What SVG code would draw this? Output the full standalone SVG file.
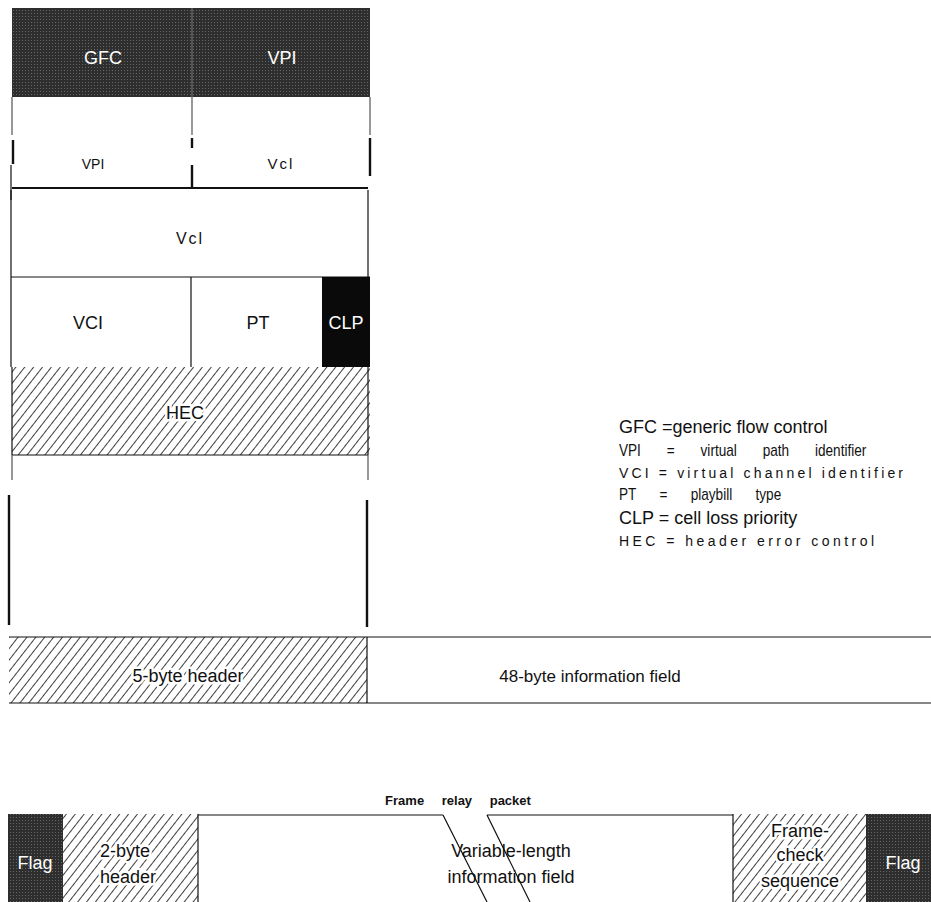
<svg xmlns="http://www.w3.org/2000/svg" width="931" height="902" viewBox="0 0 931 902">
<defs>
<pattern id="hatch" width="7" height="7" patternUnits="userSpaceOnUse" patternTransform="rotate(38)">
<rect width="7" height="7" fill="#fff"/>
<line x1="0" y1="0" x2="0" y2="7" stroke="#000" stroke-width="1.5"/>
</pattern>
<pattern id="stipple" width="3" height="3" patternUnits="userSpaceOnUse">
<rect width="3" height="3" fill="#2e2e2e"/>
<rect x="1" y="1" width="1" height="1" fill="#666"/>
</pattern>
</defs>
<style>
text{font-family:"Liberation Sans",Arial,sans-serif;fill:#111}
.w{fill:#fff}
.ln{stroke:#111;stroke-width:1.2;fill:none}
.tk{stroke:#111;stroke-width:2.4;fill:none}
.gl{stroke:#555;stroke-width:1.2;fill:none}
.halo{stroke:#fff;stroke-width:5;paint-order:stroke;stroke-linejoin:round}
.big{font-size:18px}
</style>
<rect width="931" height="902" fill="#fff"/>

<g id="atm-cell">
<g id="row-gfc-vpi">
<rect x="12" y="8" width="358" height="89" fill="url(#stipple)"/>
<line x1="192" y1="8" x2="192" y2="97" stroke="#777" stroke-width="1"/>
<text x="103" y="64" class="w big" text-anchor="middle">GFC</text>
<text x="282" y="64" class="w big" text-anchor="middle">VPI</text>
</g>
<g id="row-vpi-vci">
<path class="gl" d="M12 97V135M370 97V135M192 97V135"/>
<path class="tk" d="M13 140V164M370 138V176M192 138V148M192 165V188"/>
<path class="ln" d="M11 165V200"/>
<line x1="12" y1="188" x2="368" y2="188" stroke="#111" stroke-width="2"/>
<text x="93" y="169" font-size="14" text-anchor="middle">VPI</text>
<text x="281" y="169" font-size="15" text-anchor="middle" letter-spacing="2">Vcl</text>
</g>
<g id="row-vci">
<path class="ln" d="M11 190V277M368 190V277"/>
<text x="190" y="244" font-size="16" text-anchor="middle" letter-spacing="2">Vcl</text>
</g>
<g id="row-vci-pt-clp">
<path class="ln" d="M11 277H370M11 277V367M191 277V367M368 277V367"/>
<rect x="322" y="277" width="48" height="90" fill="#0a0a0a"/>
<text x="88" y="329" class="big" text-anchor="middle">VCI</text>
<text x="258" y="329" class="big" text-anchor="middle">PT</text>
<text x="346" y="329" class="w big" text-anchor="middle">CLP</text>
</g>
<g id="row-hec">
<rect x="12" y="367" width="358" height="88" fill="url(#hatch)"/>
<path class="ln" d="M12 367V455M368 367V455M12 455H368"/>
<text x="185" y="419" class="big halo" text-anchor="middle">HEC</text>
</g>
<g id="payload-sides">
<path class="gl" d="M12 455V480M368 455V480"/>
<path class="tk" d="M9 495V625M367 500V627"/>
</g>
</g>

<g id="atm-summary">
<rect x="9" y="637" width="358" height="66" fill="url(#hatch)"/>
<path class="ln" d="M9 637H931M9 703H931M367 637V703"/>
<text x="188" y="682" class="big halo" text-anchor="middle">5-byte header</text>
<text x="590" y="682" font-size="17" text-anchor="middle">48-byte information field</text>
</g>

<g id="legend">
<text x="619" y="433" class="big">GFC =generic flow control</text>
<text transform="translate(619 456) scale(0.85 1)" font-size="16" word-spacing="26">VPI = virtual path identifier</text>
<text x="619" y="478" font-size="14" textLength="284" lengthAdjust="spacing">VCI = virtual channel identifier</text>
<text transform="translate(619 500) scale(0.85 1)" font-size="16" word-spacing="23">PT = playbill type</text>
<text x="619" y="524" class="big">CLP = cell loss priority</text>
<text x="619" y="546" font-size="14" textLength="255" lengthAdjust="spacing">HEC = header error control</text>
</g>

<g id="frame-relay">
<text x="458" y="805" font-size="13" font-weight="bold" text-anchor="middle" word-spacing="14">Frame relay packet</text>
<g id="flag-left">
<rect x="8" y="814" width="55" height="88" fill="url(#stipple)"/>
<text x="35" y="869" class="w big" text-anchor="middle">Flag</text>
</g>
<g id="header-2byte">
<rect x="63" y="814" width="135" height="88" fill="url(#hatch)"/>
<line x1="198" y1="814" x2="198" y2="902" class="ln"/>
<text x="125" y="857" class="big halo" text-anchor="middle">2-byte</text>
<text x="128" y="883" class="big halo" text-anchor="middle">header</text>
</g>
<g id="info-field">
<path class="ln" d="M198 815H443M487 815H733M443 815L487 902M487 815L530 902"/>
<text x="511" y="857" class="big" text-anchor="middle">Variable-length</text>
<text x="511" y="883" class="big" text-anchor="middle">information field</text>
</g>
<g id="fcs">
<rect x="733" y="814" width="133" height="88" fill="url(#hatch)"/>
<line x1="733" y1="814" x2="733" y2="902" class="ln"/>
<text x="800" y="837" class="big halo" text-anchor="middle">Frame-</text>
<text x="800" y="861" class="big halo" text-anchor="middle">check</text>
<text x="800" y="887" class="big halo" text-anchor="middle">sequence</text>
</g>
<g id="flag-right">
<rect x="866" y="814" width="65" height="88" fill="url(#stipple)"/>
<text x="903" y="869" class="w big" text-anchor="middle">Flag</text>
</g>
</g>
</svg>
